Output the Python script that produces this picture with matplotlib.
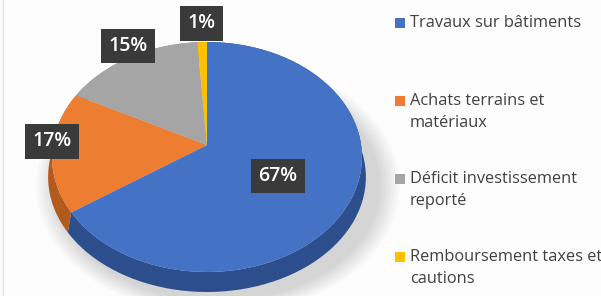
import numpy as np
import matplotlib
matplotlib.use("Agg")
import matplotlib.pyplot as plt
from matplotlib.patches import Polygon, Ellipse, Rectangle

# data
categories = ["Travaux sur bâtiments", "Achats terrains et\nmatériaux",
              "Déficit investissement\nreporté", "Remboursement taxes et\ncautions"]
values = [67, 17, 15, 1]

top_colors = ["#4472C4", "#ED7D31", "#A5A5A5", "#FFC000"]
side_colors = ["#2C4E8C", "#B35A1E", "#7C7C7C", "#BF9000"]
label_dist = [0.53, 1.0, 1.0, 1.06]

W, H = 601, 296
cx, cy, rx, ry = 207, 157, 155, 115   # pixel geometry of the top ellipse
apex = 12 / ry                         # apex sits a bit above ellipse centre
depth = 20 / ry

fig = plt.figure(figsize=(W / 100, H / 100), dpi=100)
fig.patch.set_facecolor("#fdfdfd")
ax = fig.add_axes([0, 0, 1, 1])
ax.set_xlim(-cx / rx, (W - cx) / rx)
ax.set_ylim((cy - H) / ry, cy / ry)
ax.axis("off")

# soft shadow
for k in range(8):
    ax.add_patch(Ellipse((0.07, -depth - 0.08), 2.1 + k * 0.035, 2.0 + k * 0.035,
                         fc="#000000", ec="none", alpha=0.02, zorder=0))

fracs = np.array(values) / sum(values)
bounds = 90 - 360 * np.concatenate([[0], np.cumsum(fracs)])


def arc(t1, t2, sx=1.0, dy=0.0):
    t = np.radians(np.linspace(t1, t2, 80))
    return np.column_stack([sx * np.cos(t), np.sin(t) - dy])


# side of the pie
for i in range(len(values)):
    t1, t2 = bounds[i], bounds[i + 1]
    top = arc(t1, t2)
    bot = arc(t2, t1, sx=1.025, dy=depth)
    ax.add_patch(Polygon(np.vstack([top, bot]), closed=True,
                         fc=side_colors[i], ec="none", zorder=2))

# top face
for i in range(len(values)):
    t1, t2 = bounds[i], bounds[i + 1]
    pts = np.vstack([[0, apex], arc(t1, t2)])
    ax.add_patch(Polygon(pts, closed=True, fc=top_colors[i], ec="none", zorder=3))

# data labels
for i in range(len(values)):
    mid = np.radians((bounds[i] + bounds[i + 1]) / 2)
    d = label_dist[i]
    ax.text(d * np.cos(mid), apex + d * np.sin(mid), f"{values[i]}%",
            ha="center", va="center", color="white", fontsize=14,
            fontweight="semibold", family="Open Sans", zorder=5,
            bbox=dict(boxstyle="square,pad=0.38", fc="#3a3a3a", ec="none"))

# legend
y0, step, lh = 23, 78, 22
for i, name in enumerate(categories):
    y = y0 + i * step
    fig.patches.append(Rectangle(((395) / W, 1 - (y + 5) / H), 10 / W, 10 / H,
                                 transform=fig.transFigure, fc=top_colors[i],
                                 ec="none"))
    for j, line in enumerate(name.split("\n")):
        fig.text(410 / W, 1 - (y + j * lh) / H, line, ha="left", va="center",
                 fontsize=11.8, color="#404040", family="Open Sans")

fig.add_artist(plt.Line2D([3 / W, 3 / W], [0, 1], color="#e2e2e2", lw=1))

fig.savefig("out.png", dpi=100)
